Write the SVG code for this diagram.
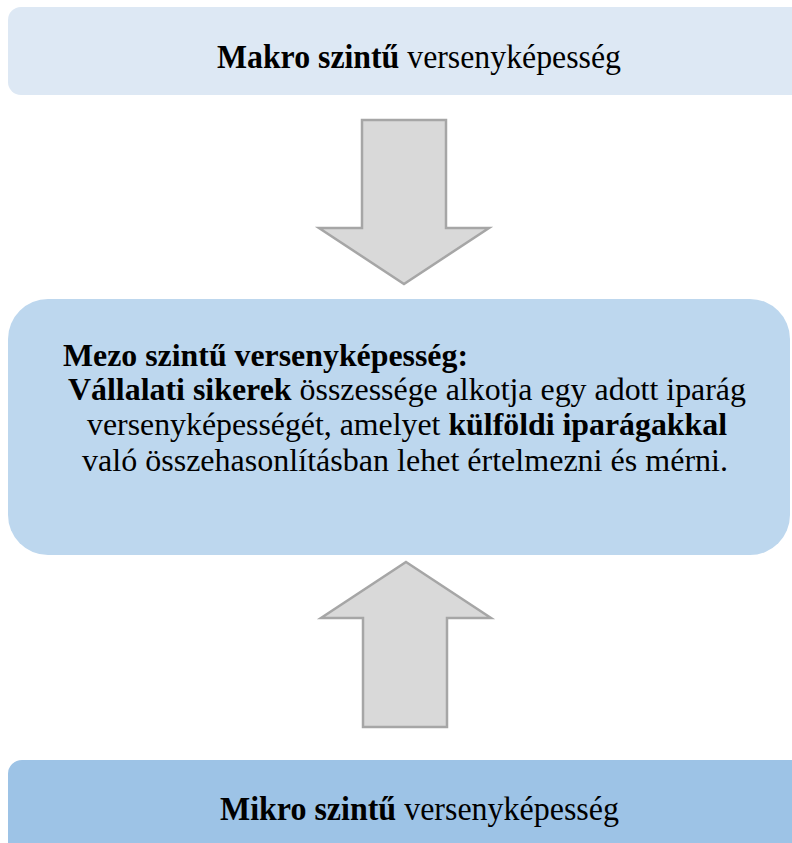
<svg xmlns="http://www.w3.org/2000/svg" width="792" height="843" viewBox="0 0 792 843">
<style>
.t{font-family:"Liberation Serif","Times New Roman",serif;font-size:31px;fill:#000}
.big{font-size:33px}
.b{font-weight:bold}
.arrow{fill:#d9d9d9;stroke:#a6a6a6;stroke-width:2.5;stroke-linejoin:miter}
</style>
<rect width="792" height="843" fill="#ffffff"/>
<g id="makro">
<rect x="8" y="7" width="800" height="88" rx="13" fill="#dde8f4"/>
<text class="t big" x="217" y="68" textLength="404" lengthAdjust="spacingAndGlyphs"><tspan class="b">Makro szintű</tspan> versenyképesség</text>
</g>
<g id="mezo">
<rect x="8" y="299" width="782" height="256" rx="40" fill="#bdd7ee"/>
<text class="t b" x="63" y="366" textLength="405" lengthAdjust="spacingAndGlyphs">Mezo szintű versenyképesség:</text>
<text class="t" x="68" y="400" textLength="678" lengthAdjust="spacingAndGlyphs"><tspan class="b">Vállalati sikerek</tspan> összessége alkotja egy adott iparág</text>
<text class="t" x="87" y="435" textLength="640" lengthAdjust="spacingAndGlyphs">versenyképességét, amelyet <tspan class="b">külföldi iparágakkal</tspan></text>
<text class="t" x="82" y="471" textLength="646" lengthAdjust="spacingAndGlyphs">való összehasonlításban lehet értelmezni és mérni.</text>
</g>
<g id="mikro">
<rect x="8" y="760" width="800" height="100" rx="14" fill="#9dc3e6"/>
<text class="t big" x="220" y="820" textLength="399" lengthAdjust="spacingAndGlyphs"><tspan class="b">Mikro szintű</tspan> versenyképesség</text>
</g>
<g id="connectors">
<polygon class="arrow" points="362,120 446,120 446,228 489,228 404,284 319,228 362,228"/>
<polygon class="arrow" points="406,562 491,618 447,618 447,727 363,727 363,618 321,618"/>
</g>
</svg>
